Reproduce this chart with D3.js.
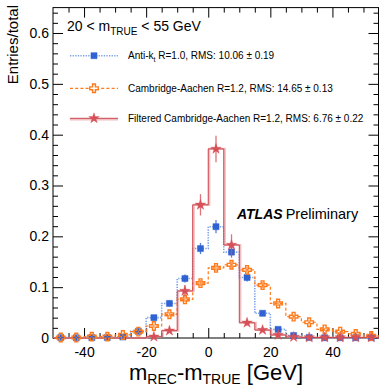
<!DOCTYPE html>
<html><head><meta charset="utf-8">
<script src="https://cdn.jsdelivr.net/npm/d3@7"></script>
<style>
body{margin:0;background:#fff}
svg{display:block}
text{font-family:"Liberation Sans",Arial,Helvetica,sans-serif;fill:#000}
</style>
</head><body><svg id="c" width="379" height="386"></svg>
<script>
// ---------------- data ----------------
const binCenters = [-47.5,-42.5,-37.5,-32.5,-27.5,-22.5,-17.5,-12.5,-7.5,-2.5,2.5,7.5,12.5,17.5,22.5,27.5,32.5,37.5,42.5,47.5,52.5];
const binWidth = 5;
const antiKt   = [0.001,0.0005,0.0008,0.001,0.002,0.013,0.040,0.068,0.117,0.176,0.219,0.169,0.119,0.0486,0.017,0.005,0.001,0.0005,0.0005,0.0005,0.0005];
const antiKtErr= [0.001,0.001,0.001,0.001,0.001,0.003,0.004,0.006,0.008,0.011,0.013,0.011,0.008,0.005,0.003,0.002,0.001,0.001,0.001,0.001,0.001];
const camAach  = [0.001,0.001,0.0026,0.0026,0.006,0.0125,0.0236,0.0466,0.076,0.108,0.138,0.144,0.134,0.104,0.068,0.042,0.031,0.017,0.0125,0.008,0.004];
const camAachErr=[0.001,0.001,0.001,0.001,0.002,0.002,0.003,0.004,0.005,0.006,0.006,0.006,0.006,0.006,0.005,0.004,0.004,0.003,0.002,0.002,0.002];
const filtered = [0,0,0,0,0,0,0.0025,0.0144,0.0925,0.262,0.372,0.183,0.030,0.0157,0.006,0.002,0.001,0.001,0.001,0.001,0.001];
const filteredErr=[0,0,0,0,0,0,0.002,0.004,0.012,0.021,0.026,0.021,0.006,0.004,0.003,0.002,0.001,0.001,0.001,0.001,0.001];
const legendLabels = ["Anti-k", "Cambridge-Aachen R=1.2, RMS: 14.65 \u00b1 0.13", "Filtered Cambridge-Aachen R=1.2, RMS: 6.76 \u00b1 0.22"];
const xMajorTicks = [-40,-20,0,20,40];
const xMinorTicks = [-45,-35,-30,-25,-15,-10,-5,5,10,15,25,30,35,45,50];
const yMajorTicks = [0,0.1,0.2,0.3,0.4,0.5,0.6];
const yTickLabels = ["0","0.1","0.2","0.3","0.4","0.5","0.6"];
const yMinorTicks = [0.02,0.04,0.06,0.08,0.12,0.14,0.16,0.18,0.22,0.24,0.26,0.28,0.32,0.34,0.36,0.38,0.42,0.44,0.46,0.48,0.52,0.54,0.56,0.58,0.62,0.64];

// ---------------- layout ----------------
const L=53, R=378.5, T=7.6, B=338;
const svg = d3.select("#c");
const x = d3.scaleLinear().domain([-50,55]).range([L,379]);
const y = d3.scaleLinear().domain([0,0.65]).range([B,T]);

function styleAxis(g){ g.select(".domain").remove(); g.selectAll("line").attr("stroke","#000").attr("stroke-width",1); g.selectAll("text").attr("font-size",14).attr("font-family","Liberation Sans, Arial, sans-serif").attr("fill","#000"); }

// axes
svg.append("g").attr("transform",`translate(0,${B})`).call(d3.axisBottom(x).tickValues(xMajorTicks).tickSize(-10).tickPadding(9).tickFormat(d=>d)).call(styleAxis);
svg.append("g").attr("transform",`translate(0,${B})`).call(d3.axisBottom(x).tickValues(xMinorTicks).tickSize(-5).tickFormat("")).call(styleAxis);
svg.append("g").attr("transform",`translate(0,${T})`).call(d3.axisTop(x).tickValues(xMajorTicks).tickSize(-10).tickFormat("")).call(styleAxis);
svg.append("g").attr("transform",`translate(0,${T})`).call(d3.axisTop(x).tickValues(xMinorTicks).tickSize(-5).tickFormat("")).call(styleAxis);
svg.append("g").attr("transform",`translate(${L},0)`).call(d3.axisLeft(y).tickValues(yMajorTicks).tickSize(-10).tickPadding(4).tickFormat((d,i)=>yTickLabels[i])).call(styleAxis);
svg.append("g").attr("transform",`translate(${L},0)`).call(d3.axisLeft(y).tickValues(yMinorTicks).tickSize(-5).tickFormat("")).call(styleAxis);
svg.append("g").attr("transform",`translate(${R},0)`).call(d3.axisRight(y).tickValues(yMajorTicks).tickSize(-10).tickFormat("")).call(styleAxis);
svg.append("g").attr("transform",`translate(${R},0)`).call(d3.axisRight(y).tickValues(yMinorTicks).tickSize(-5).tickFormat("")).call(styleAxis);

// frame
svg.append("rect").attr("x",L).attr("y",T).attr("width",R-L).attr("height",B-T).attr("fill","none").attr("stroke","#000").attr("stroke-width",1);

// step helper
function stepPoints(vals){
  const pts=[];
  binCenters.forEach((c,i)=>{ pts.push([c-binWidth/2, vals[i]]); pts.push([c+binWidth/2, vals[i]]); });
  return pts;
}
const line = d3.line().x(d=>x(d[0])).y(d=>y(d[1]));

const series = [
  {vals:antiKt, err:antiKtErr, lineColor:"#7aa0e8", lw:1.6, dash:"1.3,1.3", mColor:"#2f62d2", sym:d3.symbolSquare, size:38, open:false},
  {vals:camAach, err:camAachErr, lineColor:"#ff7a1a", lw:1.2, dash:"3,2.2", mColor:"#ff7a1a", sym:d3.symbolCross, size:40, open:true},
  {vals:filtered, err:filteredErr, lineColor:"#c9474c", lw:1, dash:null, mColor:"#d65058", sym:d3.symbolStar, size:34, open:false, under:"#eba3a6"}
];

const plot = svg.append("g");
// lines first
series.forEach(s=>{
  if(s.under) plot.append("path").attr("d",line(stepPoints(s.vals))).attr("fill","none").attr("stroke",s.under).attr("stroke-width",2.2).attr("stroke-opacity",0.7).attr("transform","translate(1,0)");
  plot.append("path").attr("d",line(stepPoints(s.vals))).attr("fill","none").attr("stroke",s.lineColor).attr("stroke-width",s.lw).attr("stroke-dasharray",s.dash);
});
// error bars & markers
series.forEach(s=>{
  const g = plot.append("g");
  binCenters.forEach((c,i)=>{
    if(!(s.vals[i]>0)) return;
    g.append("line").attr("x1",x(c)).attr("x2",x(c)).attr("y1",y(s.vals[i]-s.err[i])).attr("y2",y(s.vals[i]+s.err[i]))
      .attr("stroke",s.mColor).attr("stroke-width",1.3).attr("stroke-opacity",0.8);
  });
  binCenters.forEach((c,i)=>{
    if(!(s.vals[i]>0)) return;
    g.append("path").attr("d",d3.symbol().type(s.sym).size(s.size)()).attr("transform",`translate(${x(c)},${y(s.vals[i])})`)
      .attr("fill",s.open?"none":s.mColor).attr("stroke",s.mColor).attr("stroke-width",s.open?1.4:0.4);
  });
});

// legend
svg.append("text").attr("x",67).attr("y",30.5).attr("font-size",14)
  .call(t=>{ t.append("tspan").text("20 < m"); t.append("tspan").attr("font-size",10).attr("dy",4).text("TRUE"); t.append("tspan").attr("dy",-4).text(" < 55 GeV"); });
const legY=[55.7,88.3,118.3];
series.forEach((s,i)=>{
  if(s.under) svg.append("line").attr("x1",70).attr("x2",118).attr("y1",legY[i]+1).attr("y2",legY[i]+1).attr("stroke",s.under).attr("stroke-width",2.2).attr("stroke-opacity",0.7);
  svg.append("line").attr("x1",70).attr("x2",118).attr("y1",legY[i]).attr("y2",legY[i]).attr("stroke",s.lineColor).attr("stroke-width",s.lw).attr("stroke-dasharray",s.dash);
  svg.append("path").attr("d",d3.symbol().type(s.sym).size(s.size)()).attr("transform",`translate(94,${legY[i]})`)
    .attr("fill",s.open?"#fff":s.mColor).attr("stroke",s.mColor).attr("stroke-width",s.open?1.4:0.4);
});
svg.append("text").attr("x",128).attr("y",legY[0]+3.6).attr("font-size",10)
  .call(t=>{ t.append("tspan").text(legendLabels[0]); t.append("tspan").attr("font-size",7).attr("dy",2.5).text("t"); t.append("tspan").attr("dy",-2.5).text(" R=1.0, RMS: 10.06 \u00b1 0.19"); });
svg.append("text").attr("x",128).attr("y",legY[1]+3.6).attr("font-size",10).text(legendLabels[1]);
svg.append("text").attr("x",128).attr("y",legY[2]+3.6).attr("font-size",10).text(legendLabels[2]);

// ATLAS label
svg.append("text").attr("x",237).attr("y",219).attr("font-size",14)
  .call(t=>{ t.append("tspan").attr("font-weight","bold").attr("font-style","italic").text("ATLAS"); t.append("tspan").attr("dx",3).attr("font-size",14.5).text("Preliminary"); });

// axis titles
svg.append("text").attr("transform","translate(18,5) rotate(-90)").attr("text-anchor","end").attr("font-size",15).text("Entries/total");
svg.append("text").attr("x",216).attr("y",380).attr("text-anchor","middle").attr("font-size",22)
  .call(t=>{ t.append("tspan").text("m"); t.append("tspan").attr("font-size",14).attr("dy",4).text("REC"); t.append("tspan").attr("dy",-4).text("-m"); t.append("tspan").attr("font-size",14).attr("dy",4).text("TRUE"); t.append("tspan").attr("dy",-4).text(" [GeV]"); });
</script>
</body></html>
